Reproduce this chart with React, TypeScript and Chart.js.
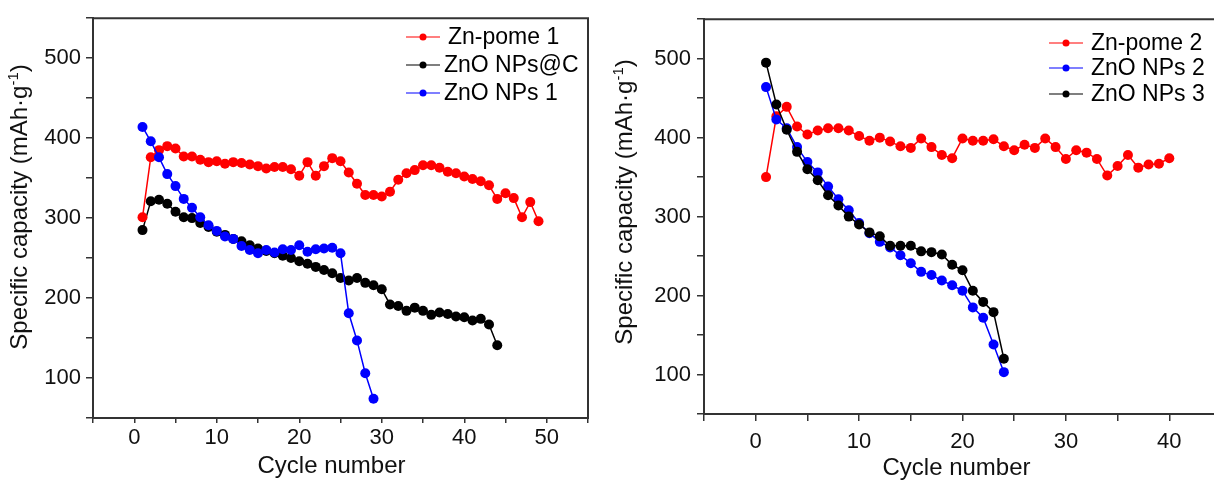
import React, { useEffect, useRef } from "react";
import { Chart, registerables } from "chart.js";

Chart.register(...registerables);

const FONT_FAMILY = "'Liberation Sans', Arial, Helvetica, sans-serif";

// ---------- Left panel data ----------
const leftPomeCycles = [1, 2, 3, 4, 5, 6, 7, 8, 9, 10, 11, 12, 13, 14, 15, 16, 17, 18, 19, 20, 21, 22, 23, 24, 25, 26, 27, 28, 29, 30, 31, 32, 33, 34, 35, 36, 37, 38, 39, 40, 41, 42, 43, 44, 45, 46, 47, 48, 49];
const leftPomeCapacity = [301, 376, 385, 390, 387, 377, 377, 373, 370, 371, 368, 370, 369, 367, 365, 362, 364, 364, 361, 353, 370, 353, 365, 375, 371, 357, 343, 329, 329, 327, 333, 348, 356, 360, 366, 366, 363, 358, 356, 352, 349, 346, 341, 324, 331, 325, 301, 320, 296];

const leftNpsCCycles = [1, 2, 3, 4, 5, 6, 7, 8, 9, 10, 11, 12, 13, 14, 15, 16, 17, 18, 19, 20, 21, 22, 23, 24, 25, 26, 27, 28, 29, 30, 31, 32, 33, 34, 35, 36, 37, 38, 39, 40, 41, 42, 43, 44];
const leftNpsCCapacity = [285, 321, 323, 318, 308, 301, 300, 294, 289, 283, 279, 274, 271, 266, 262, 259, 256, 253, 250, 246, 243, 239, 235, 231, 225, 222, 225, 219, 216, 211, 192, 190, 184, 188, 184, 179, 182, 180, 177, 176, 172, 174, 167, 141];

const leftNps1Cycles = [1, 2, 3, 4, 5, 6, 7, 8, 9, 10, 11, 12, 13, 14, 15, 16, 17, 18, 19, 20, 21, 22, 23, 24, 25, 26, 27, 28, 29];
const leftNps1Capacity = [414, 396, 376, 355, 340, 324, 313, 301, 291, 284, 277, 274, 265, 260, 256, 260, 257, 261, 260, 266, 258, 261, 262, 263, 256, 181, 147, 106, 74];

// ---------- Right panel data ----------
const rightPomeCycles = [1, 2, 3, 4, 5, 6, 7, 8, 9, 10, 11, 12, 13, 14, 15, 16, 17, 18, 19, 20, 21, 22, 23, 24, 25, 26, 27, 28, 29, 30, 31, 32, 33, 34, 35, 36, 37, 38, 39, 40];
const rightPomeCapacity = [350, 427, 439, 414, 404, 409, 412, 412, 409, 402, 396, 400, 395, 389, 387, 399, 388, 378, 374, 399, 396, 396, 398, 389, 384, 391, 387, 399, 388, 373, 384, 381, 373, 352, 364, 378, 362, 366, 367, 374];

const rightNps2Cycles = [1, 2, 3, 4, 5, 6, 7, 8, 9, 10, 11, 12, 13, 14, 15, 16, 17, 18, 19, 20, 21, 22, 23, 24];
const rightNps2Capacity = [464, 423, 412, 388, 369, 356, 338, 322, 308, 292, 279, 268, 261, 251, 241, 230, 226, 219, 213, 206, 185, 172, 138, 103];

const rightNps3Cycles = [1, 2, 3, 4, 5, 6, 7, 8, 9, 10, 11, 12, 13, 14, 15, 16, 17, 18, 19, 20, 21, 22, 23, 24];
const rightNps3Capacity = [495, 442, 410, 382, 360, 346, 327, 314, 300, 290, 280, 275, 263, 263, 263, 256, 255, 252, 239, 232, 206, 192, 179, 120];

// ---------- Tick labels / titles ----------
const leftXTickLabels = [0, 10, 20, 30, 40, 50];
const rightXTickLabels = [0, 10, 20, 30, 40];
const yTickLabels = [100, 200, 300, 400, 500];
const X_TITLE = "Cycle number";
const Y_TITLE_MAIN = "Specific capacity (mAh·g";
const Y_TITLE_SUP = "-1";
const Y_TITLE_END = ")";

const RED = "#ff0000";
const BLUE = "#0000ff";
const BLACK = "#000000";

const toPoints = (xs: number[], ys: number[]) => xs.map((x, i) => ({ x, y: ys[i] }));

const frameAndLegend = {
  id: "frameAndLegend",
  afterDatasetsDraw(chart: any, _args: any, opts: any) {
    const { ctx } = chart;
    const { left, top, right, bottom } = chart.chartArea;
    ctx.save();
    ctx.strokeStyle = "#333";
    ctx.lineWidth = 2;
    ctx.beginPath();
    ctx.moveTo(left - 1, top);
    ctx.lineTo(right, top);
    ctx.lineTo(right, bottom + 1);
    ctx.stroke();

    // legend
    chart.data.datasets.forEach((ds: any, i: number) => {
      const y = opts.rows[i];
      ctx.strokeStyle = ds.borderColor;
      ctx.lineWidth = 1.2;
      ctx.beginPath();
      ctx.moveTo(opts.x0, y);
      ctx.lineTo(opts.x1, y);
      ctx.stroke();
      ctx.fillStyle = ds.backgroundColor;
      ctx.beginPath();
      ctx.arc((opts.x0 + opts.x1) / 2, y, 3.5, 0, Math.PI * 2);
      ctx.fill();
      ctx.fillStyle = "#000";
      ctx.font = `23px ${FONT_FAMILY}`;
      ctx.textAlign = "left";
      ctx.textBaseline = "middle";
      ctx.fillText(ds.label, opts.textX[i], y + 1);
    });

    // x title
    ctx.fillStyle = "#111";
    ctx.font = `24px ${FONT_FAMILY}`;
    ctx.textAlign = "center";
    ctx.textBaseline = "alphabetic";
    ctx.fillText(X_TITLE, opts.xTitle.x, opts.xTitle.y);

    // y title (rotated, with superscript)
    const big = `24px ${FONT_FAMILY}`;
    const small = `15px ${FONT_FAMILY}`;
    ctx.font = big;
    const w1 = ctx.measureText(Y_TITLE_MAIN).width;
    const w3 = ctx.measureText(Y_TITLE_END).width;
    ctx.font = small;
    const w2 = ctx.measureText(Y_TITLE_SUP).width;
    const total = w1 + w2 + w3;
    ctx.translate(opts.yTitle.x, opts.yTitle.y);
    ctx.rotate(-Math.PI / 2);
    ctx.textAlign = "left";
    let cx = -total / 2;
    ctx.font = big;
    ctx.fillText(Y_TITLE_MAIN, cx, 0);
    cx += w1;
    ctx.font = small;
    ctx.fillText(Y_TITLE_SUP, cx, -9);
    cx += w2;
    ctx.font = big;
    ctx.fillText(Y_TITLE_END, cx, 0);
    ctx.restore();
  },
};

function makeDataset(label: string, xs: number[], ys: number[], color: string, order: number) {
  return {
    label,
    data: toPoints(xs, ys),
    borderColor: color,
    backgroundColor: color,
    pointBackgroundColor: color,
    pointBorderColor: color,
    pointRadius: 5,
    pointBorderWidth: 0,
    borderWidth: 1.5,
    tension: 0,
    order,
  };
}

function makeConfig(p: any) {
  const tickFont = { family: FONT_FAMILY, size: 22 };
  return {
    type: "line",
    data: { datasets: p.datasets },
    options: {
      responsive: false,
      animation: false,
      devicePixelRatio: 1,
      layout: { padding: { top: p.top, right: p.right, left: 0, bottom: 0 } },
      plugins: {
        legend: { display: false },
        tooltip: { enabled: false },
        frameAndLegend: p.legend,
      },
      scales: {
        x: {
          type: "linear",
          min: -5,
          max: p.xMax,
          afterFit: (s: any) => {
            s.height = p.xAxisHeight;
          },
          ticks: {
            stepSize: 5,
            autoSkip: false,
            maxRotation: 0,
            padding: p.xTickPadding,
            color: "#111",
            font: tickFont,
            callback: (v: any) => (p.xLabels.includes(Number(v)) ? String(v) : ""),
          },
          grid: { drawOnChartArea: false, drawTicks: true, tickLength: p.xTickLength, color: "#333", lineWidth: 1.5 },
          border: { display: true, color: "#333", width: 2 },
          title: { display: false },
        },
        y: {
          type: "linear",
          min: 50,
          max: 550,
          afterFit: (s: any) => {
            s.width = p.yAxisWidth;
          },
          ticks: {
            stepSize: 50,
            autoSkip: false,
            padding: p.yTickPadding,
            color: "#111",
            font: tickFont,
            callback: (v: any) => (yTickLabels.includes(Number(v)) ? String(v) : ""),
          },
          grid: { drawOnChartArea: false, drawTicks: true, tickLength: 7, color: "#333", lineWidth: 1.5 },
          border: { display: true, color: "#333", width: 2 },
          title: { display: false },
        },
      },
    },
    plugins: [frameAndLegend],
  };
}

function PanelChart({ build, left, width, height }: { build: () => any; left: number; width: number; height: number }) {
  const ref = useRef<HTMLCanvasElement | null>(null);
  useEffect(() => {
    const chart = new Chart(ref.current as HTMLCanvasElement, build());
    return () => chart.destroy();
  }, []);
  return (
    <canvas
      ref={ref}
      width={width}
      height={height}
      style={{ position: "absolute", left, top: 0, width, height, display: "block" }}
    />
  );
}

const buildLeft = () =>
  makeConfig({
    datasets: [
      makeDataset("Zn-pome 1", leftPomeCycles, leftPomeCapacity, RED, 1),
      makeDataset("ZnO NPs@C", leftNpsCCycles, leftNpsCCapacity, BLACK, 2),
      makeDataset("ZnO NPs 1", leftNps1Cycles, leftNps1Capacity, BLUE, 0),
    ],
    xMax: 55,
    xLabels: leftXTickLabels,
    top: 15,
    right: 12,
    xAxisHeight: 64,
    yAxisWidth: 93,
    xTickLength: 5,
    xTickPadding: 2,
    yTickPadding: 5,
    legend: {
      x0: 406,
      x1: 440,
      textX: [448, 444, 444],
      rows: [37, 65, 93],
      xTitle: { x: 331.5, y: 473 },
      yTitle: { x: 27, y: 207 },
    },
  });

const buildRight = () =>
  makeConfig({
    datasets: [
      makeDataset("Zn-pome 2", rightPomeCycles, rightPomeCapacity, RED, 2),
      makeDataset("ZnO NPs 2", rightNps2Cycles, rightNps2Capacity, BLUE, 1),
      makeDataset("ZnO NPs 3", rightNps3Cycles, rightNps3Capacity, BLACK, 0),
    ],
    xMax: 45,
    xLabels: rightXTickLabels,
    top: 15,
    right: 9,
    xAxisHeight: 68,
    yAxisWidth: 104,
    xTickLength: 7,
    xTickPadding: 8,
    yTickPadding: 6,
    legend: {
      x0: 449,
      x1: 483,
      textX: [491, 491, 491],
      rows: [43, 68, 94],
      xTitle: { x: 356.5, y: 475 },
      yTitle: { x: 32, y: 202 },
    },
  });

export default function App() {
  return (
    <div
      style={{
        position: "fixed",
        left: 0,
        top: 0,
        width: 1214,
        height: 482,
        overflow: "hidden",
        background: "#fff",
      }}
    >
      <PanelChart build={buildLeft} left={0} width={600} height={482} />
      <PanelChart build={buildRight} left={600} width={630} height={482} />
    </div>
  );
}
